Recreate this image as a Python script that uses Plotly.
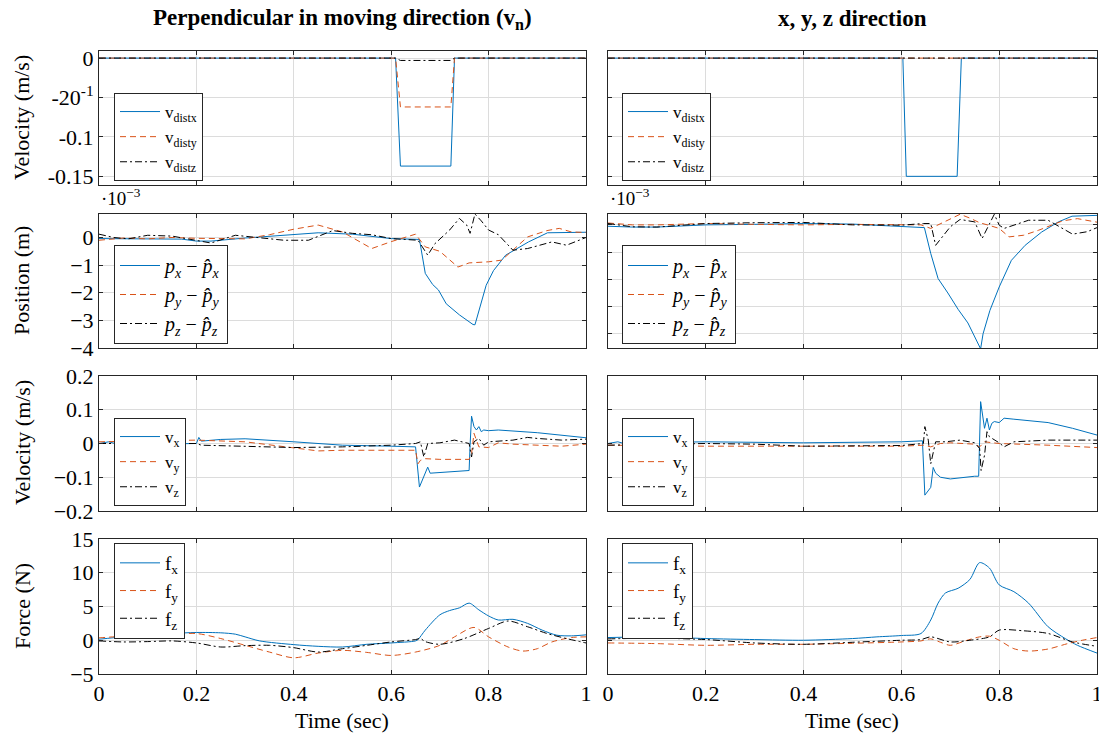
import plotly.graph_objects as go

# ---------------- data ----------------
# Row 1: disturbance velocity (m/s)
t_vd_l = [0, 0.609, 0.619, 0.7225, 0.730, 1.0]
vdistx_l = [0, 0, -0.137, -0.137, 0, 0]
vdisty_l = [0, 0, -0.062, -0.062, 0, 0]
vdistz_l = [0, 0, -0.003, -0.003, 0, 0]
t_vd_r = [0, 0.603, 0.610, 0.714, 0.7226, 1.0]
vdistx_r = [0, 0, -0.15, -0.15, 0, 0]
vdisty_r = [0, 0, 0, 0, 0, 0]
vdistz_r = [0, 0, 0, 0, 0, 0]

# Row 2: position error (x1e-3 m)
t_px_l = [0, 0.05, 0.1, 0.17, 0.2, 0.23, 0.3, 0.38, 0.45, 0.52, 0.6, 0.658, 0.67, 0.685, 0.697, 0.713, 0.74, 0.768, 0.772, 0.795, 0.81, 0.835, 0.86, 0.882, 0.921, 0.96, 1.0]
px_l = [-0.04, -0.05, -0.05, -0.06, -0.13, -0.13, -0.02, 0.08, 0.17, 0.12, -0.04, -0.07, -1.3, -1.7, -1.9, -2.4, -2.8, -3.15, -3.16, -1.73, -1.2, -0.64, -0.4, -0.16, 0.17, 0.19, 0.19]
t_py_l = [0, 0.05, 0.1, 0.15, 0.2, 0.25, 0.3, 0.35, 0.4, 0.45, 0.5, 0.56, 0.6, 0.65, 0.67, 0.7, 0.737, 0.76, 0.8, 0.827, 0.85, 0.88, 0.92, 0.945, 0.97, 1.0]
py_l = [-0.1, -0.02, -0.05, 0.0, -0.03, -0.05, -0.05, 0.1, 0.3, 0.45, 0.2, -0.4, -0.15, 0.12, -0.34, -0.5, -1.07, -0.92, -0.88, -0.82, -0.45, 0.02, 0.25, 0.33, 0.2, 0.18]
t_pz_l = [0, 0.03, 0.06, 0.1, 0.15, 0.2, 0.23, 0.28, 0.33, 0.38, 0.43, 0.48, 0.52, 0.56, 0.6, 0.655, 0.675, 0.69, 0.72, 0.74, 0.755, 0.762, 0.772, 0.785, 0.8, 0.82, 0.85, 0.88, 0.93, 0.96, 1.0]
pz_l = [0.12, 0.0, -0.05, 0.08, 0.05, -0.1, -0.2, 0.08, 0.0, -0.1, -0.1, 0.25, 0.15, 0.1, -0.04, -0.1, -0.64, -0.22, 0.27, 0.69, 0.45, 0.15, 0.85, 0.6, 0.27, 0.1, -0.46, -0.4, -0.16, -0.28, 0.0]

t_px_r = [0, 0.05, 0.1, 0.2, 0.3, 0.4, 0.5, 0.6, 0.647, 0.66, 0.675, 0.695, 0.716, 0.736, 0.757, 0.762, 0.767, 0.781, 0.8, 0.825, 0.853, 0.887, 0.921, 0.949, 1.0]
px_r = [-0.05, -0.08, -0.08, 0.0, 0.02, 0.05, 0.03, -0.05, -0.1, -1.05, -1.97, -2.5, -3.1, -3.6, -4.37, -4.55, -4.0, -3.14, -2.28, -1.3, -0.75, -0.26, 0.11, 0.32, 0.35]
t_py_r = [0, 0.05, 0.1, 0.2, 0.3, 0.4, 0.5, 0.6, 0.64, 0.66, 0.68, 0.7, 0.72, 0.74, 0.76, 0.78, 0.8, 0.82, 0.85, 0.88, 0.93, 0.96, 1.0]
py_r = [0.07, 0.0, 0.0, 0.05, 0.02, 0.0, 0.02, 0.02, 0.0, -0.13, 0.05, 0.23, 0.39, 0.25, 0.08, -0.02, -0.13, -0.44, -0.38, -0.2, 0.15, 0.23, 0.1]
t_pz_r = [0, 0.05, 0.1, 0.2, 0.3, 0.4, 0.5, 0.6, 0.645, 0.66, 0.67, 0.685, 0.7, 0.72, 0.75, 0.765, 0.79, 0.8, 0.81, 0.86, 0.9, 0.95, 0.98, 1.0]
pz_r = [0.05, -0.07, -0.08, 0.05, 0.08, 0.09, 0.0, -0.01, 0.05, 0.05, -0.75, -0.4, -0.07, 0.2, 0.11, -0.5, 0.39, -0.01, -0.13, 0.17, 0.17, -0.34, -0.25, -0.1]

# Row 3: velocity (m/s)
t_vx_l = [0, 0.02, 0.04, 0.2, 0.205, 0.21, 0.25, 0.3, 0.4, 0.5, 0.6, 0.65, 0.658, 0.67, 0.675, 0.68, 0.7, 0.76, 0.762, 0.765, 0.77, 0.775, 0.78, 0.785, 0.79, 0.8, 0.82, 0.9, 1.0]
vx_l = [0.0, 0.005, -0.003, 0.0, 0.018, 0.007, 0.012, 0.014, 0.005, -0.005, -0.008, -0.01, -0.129, -0.09, -0.07, -0.088, -0.086, -0.08, -0.005, 0.081, 0.05, 0.04, 0.05, 0.035, 0.04, 0.038, 0.04, 0.032, 0.017]
t_vy_l = [0, 0.1, 0.2, 0.3, 0.4, 0.45, 0.5, 0.6, 0.65, 0.655, 0.66, 0.67, 0.7, 0.76, 0.765, 0.77, 0.78, 0.8, 0.82, 0.85, 0.9, 0.95, 1.0]
vy_l = [0.005, 0.008, 0.01, 0.005, -0.012, -0.022, -0.02, -0.02, -0.02, -0.06, -0.05, -0.045, -0.047, -0.047, -0.03, 0.03, -0.01, -0.012, 0.002, -0.002, -0.005, -0.008, -0.002]
t_vz_l = [0, 0.1, 0.2, 0.21, 0.3, 0.4, 0.5, 0.6, 0.65, 0.66, 0.667, 0.675, 0.7, 0.73, 0.76, 0.765, 0.77, 0.78, 0.79, 0.8, 0.85, 0.88, 0.9, 0.95, 1.0]
vz_l = [0.0, 0.0, 0.0, -0.005, -0.008, -0.012, -0.01, -0.005, 0.0, 0.005, -0.04, 0.0, 0.002, 0.01, 0.0, -0.04, 0.005, 0.015, -0.005, 0.005, 0.01, 0.018, 0.015, 0.01, 0.013]

t_vx_r = [0, 0.02, 0.04, 0.1, 0.2, 0.4, 0.6, 0.643, 0.648, 0.66, 0.665, 0.67, 0.68, 0.7, 0.75, 0.758, 0.762, 0.77, 0.775, 0.78, 0.785, 0.79, 0.8, 0.81, 0.83, 0.9, 0.95, 1.0]
vx_r = [0.0, 0.005, -0.003, 0.003, 0.005, 0.002, 0.005, 0.008, -0.153, -0.13, -0.071, -0.088, -0.1, -0.105, -0.097, -0.097, 0.124, 0.045, 0.075, 0.04, 0.06, 0.065, 0.062, 0.075, 0.072, 0.062, 0.045, 0.025]
t_vy_r = [0, 0.2, 0.6, 0.645, 0.66, 0.68, 0.7, 0.75, 0.76, 0.77, 0.8, 0.85, 0.9, 1.0]
vy_r = [-0.005, -0.008, -0.008, -0.005, -0.01, 0.0, 0.002, -0.002, -0.01, 0.005, 0.0, -0.002, -0.005, -0.012]
t_vz_r = [0, 0.2, 0.3, 0.4, 0.6, 0.645, 0.648, 0.655, 0.66, 0.67, 0.69, 0.72, 0.75, 0.76, 0.763, 0.77, 0.775, 0.78, 0.8, 0.81, 0.83, 0.9, 1.0]
vz_r = [-0.005, 0.0, -0.002, -0.008, -0.006, 0.0, 0.05, 0.01, -0.06, 0.005, 0.005, 0.01, 0.002, -0.015, -0.08, -0.035, 0.035, 0.02, 0.002, -0.01, 0.005, 0.01, 0.01]

# Row 4: force (N)
t_fx_l = [0, 0.05, 0.1, 0.15, 0.2, 0.25, 0.28, 0.3, 0.33, 0.4, 0.45, 0.5, 0.55, 0.6, 0.65, 0.655, 0.67, 0.7, 0.72, 0.74, 0.76, 0.78, 0.8, 0.82, 0.85, 0.88, 0.91, 0.94, 0.97, 1.0]
fx_l = [0.15, 0.5, 0.75, 1.0, 1.15, 1.1, 0.9, 0.5, -0.1, -0.65, -0.9, -1.0, -0.6, -0.4, -0.1, 0.1, 1.5, 3.77, 4.4, 4.8, 5.5, 4.5, 3.6, 3.0, 3.1, 2.5, 1.5, 0.75, 0.65, 0.8]
t_fy_l = [0, 0.05, 0.1, 0.15, 0.2, 0.25, 0.3, 0.35, 0.4, 0.45, 0.5, 0.55, 0.6, 0.65, 0.7, 0.73, 0.77, 0.8, 0.84, 0.87, 0.9, 0.93, 0.97, 1.0]
fy_l = [0.35, 0.6, 0.75, 0.85, 1.0, 0.25, -0.75, -1.75, -2.6, -1.9, -1.5, -1.8, -2.25, -1.75, -0.75, 0.5, 1.9, 0.5, -1.0, -1.6, -1.25, -0.25, 0.4, 0.5]
t_fz_l = [0, 0.05, 0.1, 0.15, 0.2, 0.25, 0.3, 0.35, 0.4, 0.45, 0.5, 0.55, 0.6, 0.65, 0.66, 0.67, 0.7, 0.75, 0.8, 0.84, 0.88, 0.92, 0.96, 1.0]
fz_l = [-0.1, -0.25, -0.2, -0.1, -0.4, -1.0, -0.8, -0.75, -1.1, -1.75, -1.25, -0.75, -0.25, 0.1, 0.25, -0.2, -0.6, 0.25, 1.75, 2.85, 2.0, 1.0, 0.25, -0.4]

t_fx_r = [0, 0.1, 0.2, 0.3, 0.4, 0.5, 0.55, 0.6, 0.64, 0.66, 0.675, 0.69, 0.716, 0.74, 0.76, 0.78, 0.8, 0.83, 0.86, 0.9, 0.935, 0.96, 1.0]
fx_r = [0.4, 0.5, 0.25, 0.1, 0.0, 0.25, 0.5, 0.7, 1.0, 3.0, 5.5, 7.0, 7.7, 9.0, 11.5, 10.7, 8.2, 7.2, 5.5, 2.0, 0.25, -0.75, -1.9]
t_fy_r = [0, 0.1, 0.2, 0.3, 0.4, 0.5, 0.6, 0.64, 0.66, 0.68, 0.7, 0.73, 0.76, 0.78, 0.8, 0.83, 0.86, 0.9, 0.94, 0.97, 1.0]
fy_r = [-0.4, -0.5, -0.75, -0.6, -0.6, -0.45, -0.25, -0.1, 0.2, -0.3, -0.75, -0.1, 0.5, 0.6, 0.0, -1.25, -1.6, -1.3, -0.5, 0.0, 0.4]
t_fz_r = [0, 0.1, 0.2, 0.3, 0.4, 0.5, 0.6, 0.64, 0.66, 0.7, 0.74, 0.78, 0.8, 0.85, 0.9, 0.95, 1.0]
fz_r = [0.2, 0.3, 0.1, -0.4, -0.6, -0.3, 0.0, 0.1, 0.5, -0.25, 0.0, 0.5, 1.5, 1.4, 1.0, -0.25, -0.9]

x_ticks = [0, 0.2, 0.4, 0.6, 0.8, 1]
x_ticktext = ["0", "0.2", "0.4", "0.6", "0.8", "1"]

# ---------------- figure ----------------
W, H = 1099, 737
FONT = "Liberation Serif"
BLUE, ORANGE, BLACK = "#0072BD", "#D95319", "#000000"
DASH = "6px,4px"
DASHDOT = "7px,3px,2px,3px"
TICK_SIZE = 22
LABEL_SIZE = 22
TITLE_SIZE = 23

col_px = {1: (99, 586), 2: (608, 1097)}
row_px = {1: (51, 185), 2: (214, 348), 3: (376, 511), 4: (539, 674)}
legend_font = {1: 17, 2: 20, 3: 17, 4: 19}

fig = go.Figure()

phat = "<i>p<sub>{0}</sub></i> − <i>p\u0302<sub>{0}</sub></i>"
panels = {
    (1, 1): [(t_vd_l, vdistx_l, "v<sub>distx</sub>"), (t_vd_l, vdisty_l, "v<sub>disty</sub>"), (t_vd_l, vdistz_l, "v<sub>distz</sub>")],
    (1, 2): [(t_vd_r, vdistx_r, "v<sub>distx</sub>"), (t_vd_r, vdisty_r, "v<sub>disty</sub>"), (t_vd_r, vdistz_r, "v<sub>distz</sub>")],
    (2, 1): [(t_px_l, px_l, phat.format("x")), (t_py_l, py_l, phat.format("y")), (t_pz_l, pz_l, phat.format("z"))],
    (2, 2): [(t_px_r, px_r, phat.format("x")), (t_py_r, py_r, phat.format("y")), (t_pz_r, pz_r, phat.format("z"))],
    (3, 1): [(t_vx_l, vx_l, "v<sub>x</sub>"), (t_vy_l, vy_l, "v<sub>y</sub>"), (t_vz_l, vz_l, "v<sub>z</sub>")],
    (3, 2): [(t_vx_r, vx_r, "v<sub>x</sub>"), (t_vy_r, vy_r, "v<sub>y</sub>"), (t_vz_r, vz_r, "v<sub>z</sub>")],
    (4, 1): [(t_fx_l, fx_l, "f<sub>x</sub>"), (t_fy_l, fy_l, "f<sub>y</sub>"), (t_fz_l, fz_l, "f<sub>z</sub>")],
    (4, 2): [(t_fx_r, fx_r, "f<sub>x</sub>"), (t_fy_r, fy_r, "f<sub>y</sub>"), (t_fz_r, fz_r, "f<sub>z</sub>")],
}

yspec = {
    1: dict(range=[-0.161, 0.009], tickvals=[0, -0.05, -0.1, -0.15],
            ticktext=["0", "-20<sup>-1</sup>", "-0.1", "-0.15"]),
    2: dict(range=[-4.0, 0.85], tickvals=[0, -1, -2, -3, -4],
            ticktext=["0", "−1", "−2", "−3", "−4"]),
    3: dict(range=[-0.2, 0.2], tickvals=[0.2, 0.1, 0, -0.1, -0.2],
            ticktext=["0.2", "0.1", "0", "−0.1", "−0.2"]),
    4: dict(range=[-5, 15], tickvals=[15, 10, 5, 0, -5],
            ticktext=["15", "10", "5", "0", "−5"]),
}
yspec_r2 = dict(range=[-4.52, 0.4], tickvals=[0, -1, -2, -3, -4], ticktext=[""] * 5)

styles = [dict(color=BLUE, width=1), dict(color=ORANGE, width=1, dash=DASH),
          dict(color=BLACK, width=1, dash=DASHDOT)]

layout = dict(
    width=W, height=H, margin=dict(l=0, r=0, t=0, b=0, autoexpand=False),
    paper_bgcolor="white", plot_bgcolor="white",
    font=dict(family=FONT, size=18, color="black"),
    hovermode=False, showlegend=True,
)

ann = []
for (r, c), series in panels.items():
    k = (r - 1) * 2 + c
    sfx = "" if k == 1 else str(k)
    lg = "legend" + sfx
    smooth = (r == 4)
    for i, (tt, vv, name) in enumerate(series):
        ln = dict(styles[i])
        if smooth:
            ln.update(shape="spline", smoothing=0.8)
        fig.add_trace(go.Scatter(
            x=tt, y=vv, mode="lines", name=name, line=ln,
            xaxis="x" + sfx, yaxis="y" + sfx, legend=lg))
    x0, x1 = col_px[c]
    y0, y1 = row_px[r]
    common = dict(showline=True, mirror="ticks", linecolor="#262626", linewidth=1,
                  ticks="inside", ticklen=4, tickcolor="#262626",
                  showgrid=True, gridcolor="#dcdcdc", gridwidth=1, zeroline=False,
                  automargin=False, ticklabeloverflow="allow",
                  tickfont=dict(family=FONT, size=TICK_SIZE, color="black"))
    layout["xaxis" + sfx] = dict(
        domain=[x0 / W, x1 / W], anchor="y" + sfx, range=[0, 1],
        tickvals=x_ticks, ticktext=x_ticktext, showticklabels=(r == 4), **common)
    ys = yspec_r2 if (r == 2 and c == 2) else yspec[r]
    layout["yaxis" + sfx] = dict(
        domain=[1 - y1 / H, 1 - y0 / H], anchor="x" + sfx,
        range=ys["range"], tickvals=ys["tickvals"], ticktext=ys["ticktext"],
        showticklabels=(c == 1), **common)
    # legend
    lx = (114 if c == 1 else 622) / W
    if r == 4:
        ly, ya = 1 - 543 / H, "top"
    else:
        ly, ya = 1 - {1: 181, 2: 344, 3: 506}[r] / H, "bottom"
    layout[lg] = dict(x=lx, y=ly, xanchor="left", yanchor=ya,
                      bgcolor="white", bordercolor="#262626", borderwidth=1,
                      font=dict(family=FONT, size=legend_font[r], color="black"),
                      tracegroupgap=0, itemwidth=40)

def add_text(txt, xp, yp, size, angle=0, xa="center", ya="middle"):
    ann.append(dict(text=txt, x=xp / W, y=1 - yp / H, xref="paper", yref="paper",
                    xanchor=xa, yanchor=ya, showarrow=False, textangle=angle,
                    font=dict(family=FONT, size=size, color="black")))

add_text("<b>Perpendicular in moving direction (v<sub>n</sub>)</b>", 342, 19, TITLE_SIZE)
add_text("<b>x, y, z direction</b>", 852, 19, TITLE_SIZE)
for txt, yc in [("Velocity (m/s)", 118), ("Position (m)", 281), ("Velocity (m/s)", 443), ("Force (N)", 606)]:
    add_text(txt, 22, yc, LABEL_SIZE, angle=-90)
for xc in (342, 852):
    add_text("Time (sec)", xc, 720, LABEL_SIZE)
for xl in (99, 608):
    add_text("·10<sup>−3</sup>", xl, 211, 19, xa="left", ya="bottom")
layout["annotations"] = ann

fig.update_layout(**layout)
fig.write_html("out.html",
               post_script="document.body.style.margin='0px';document.body.style.overflow='hidden';")
